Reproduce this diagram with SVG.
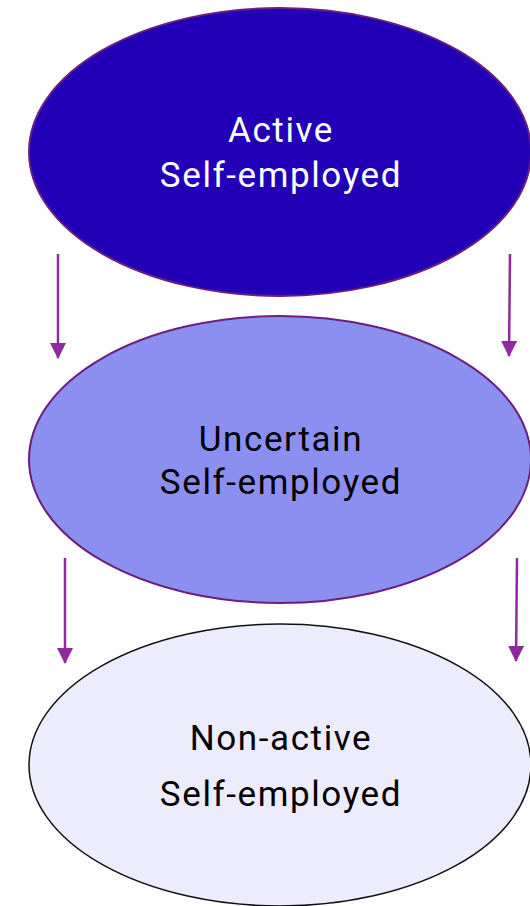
<svg xmlns="http://www.w3.org/2000/svg" width="530" height="906" viewBox="0 0 530 906">
<style>
.lbl{font-family:Roboto,"Liberation Sans",sans-serif;font-size:35px;letter-spacing:1.6px;text-anchor:middle}
.con{stroke:#8e2a9c;stroke-width:2.5;fill:none}
</style>
<defs>
<marker id="ah2" viewBox="0 0 16 16" refX="15" refY="8" markerWidth="16" markerHeight="16" orient="auto" markerUnits="userSpaceOnUse">
<path d="M0,0 L16,8 L0,16 z" fill="#8e2a9c"/>
</marker>
</defs>
<g id="n1">
<ellipse cx="280" cy="152" rx="251" ry="144" fill="#2200b8" stroke="#6a1f7a" stroke-width="2"/>
<text class="lbl" x="281" y="142" fill="#ffffff">Active</text>
<text class="lbl" x="281" y="187" fill="#ffffff">Self-employed</text>
</g>
<g id="n2">
<ellipse cx="280" cy="459.5" rx="251" ry="143.5" fill="#8b8ff0" stroke="#6a1f7a" stroke-width="2"/>
<text class="lbl" x="281" y="451" fill="#000000">Uncertain</text>
<text class="lbl" x="281" y="494" fill="#000000">Self-employed</text>
</g>
<g id="n3">
<ellipse cx="280" cy="765" rx="251" ry="141" fill="#ececfc" stroke="#111111" stroke-width="1.5"/>
<text class="lbl" x="281" y="750" fill="#000000">Non-active</text>
<text class="lbl" x="281" y="806" fill="#000000">Self-employed</text>
</g>
<g id="connectors">
<line class="con" x1="58" y1="254" x2="58" y2="358" marker-end="url(#ah2)"/>
<line class="con" x1="510" y1="254" x2="509" y2="356" marker-end="url(#ah2)"/>
<line class="con" x1="65" y1="558" x2="65" y2="663" marker-end="url(#ah2)"/>
<line class="con" x1="517" y1="558" x2="516" y2="661" marker-end="url(#ah2)"/>
</g>
</svg>
